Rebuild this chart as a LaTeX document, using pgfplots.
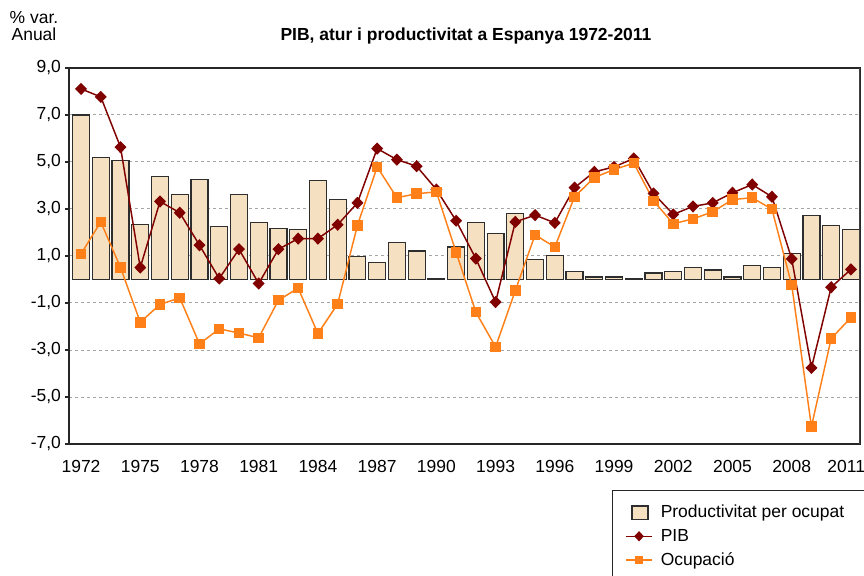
\documentclass[border=0pt]{standalone}
\usepackage{fontspec}
\setmainfont{Liberation Sans}
\usepackage{pgfplots}
\pgfplotsset{compat=1.18}
\usepackage{pgfplotstable}
\definecolor{barfill}{HTML}{F5E1C2}
\definecolor{barline}{HTML}{2E2E2E}
\definecolor{pibc}{HTML}{800000}
\definecolor{ocupc}{HTML}{FF8019}
\definecolor{gridc}{HTML}{A6A6A6}

\pgfplotsset{
  legpib/.style={legend image code/.code={\draw[mark repeat=2, mark phase=2, ##1, mark size=3pt] plot coordinates {(0pt,0pt)(9.75pt,0pt)(19.5pt,0pt)};}},
  legocup/.style={legend image code/.code={\draw[mark repeat=2, mark phase=2, ##1, mark size=2.6pt] plot coordinates {(0pt,0pt)(9.75pt,0pt)(19.5pt,0pt)};}},
  legbar/.style={legend image code/.code={\draw[fill=barfill, draw=barline, line width=0.9pt] (4.5pt,-5pt) rectangle (16.5pt,5pt);}},
}

\pgfplotstableread{
year prod pib ocup
1972 7.00 8.11 1.09
1973 5.18 7.77 2.45
1974 5.08 5.63 0.51
1975 2.35 0.51 -1.82
1976 4.37 3.32 -1.06
1977 3.62 2.84 -0.78
1978 4.27 1.46 -2.74
1979 2.24 0.04 -2.10
1980 3.63 1.29 -2.28
1981 2.41 -0.17 -2.48
1982 2.18 1.29 -0.88
1983 2.13 1.74 -0.37
1984 4.20 1.74 -2.30
1985 3.39 2.33 -1.04
1986 0.97 3.26 2.30
1987 0.74 5.57 4.79
1988 1.56 5.10 3.48
1989 1.21 4.82 3.65
1990 0.04 3.83 3.73
1991 1.38 2.50 1.16
1992 2.41 0.89 -1.39
1993 1.96 -0.96 -2.87
1994 2.82 2.45 -0.47
1995 0.85 2.74 1.90
1996 1.02 2.41 1.38
1997 0.34 3.91 3.52
1998 0.11 4.58 4.34
1999 0.11 4.79 4.68
2000 0.04 5.15 4.95
2001 0.28 3.66 3.35
2002 0.35 2.77 2.37
2003 0.51 3.11 2.58
2004 0.40 3.26 2.88
2005 0.11 3.69 3.40
2006 0.61 4.04 3.48
2007 0.51 3.52 2.99
2008 1.10 0.88 -0.23
2009 2.71 -3.76 -6.26
2010 2.31 -0.33 -2.51
2011 2.13 0.43 -1.62
}\datatable

\begin{document}
\begin{tikzpicture}[font=\fontsize{13.1pt}{15pt}\selectfont]
\useasboundingbox (-51.75pt,-98.25pt) rectangle (596.25pt,333pt);
\clip (-51.75pt,-98.25pt) rectangle (596.25pt,333pt);
\begin{axis}[
  at={(0pt,0pt)}, anchor=south west,
  scale only axis, width=593.25pt, height=282pt,
  xmin=1971.39, xmax=2011.46, ymin=-7, ymax=9,
  xtick={1972,1975,...,2011},
  xticklabels={1972,1975,1978,1981,1984,1987,1990,1993,1996,1999,2002,2005,2008,\hspace*{-7pt}2011},
  ytick={-7,-5,...,9},
  xtick style={draw=none},
  ytick pos=left, tick align=outside, major tick length=3pt,
  ytick style={black!85, line width=0.8pt},
  ymajorgrids,
  grid style={gridc, dash pattern=on 2.25pt off 2.25pt, line width=0.75pt},
  axis line style={black!85, line width=0.9pt},
  /pgf/number format/assume math mode=true,
  x tick label style={yshift=-5.5pt},
  y tick label style={xshift=0.5pt, /pgf/number format/.cd, fixed, fixed zerofill, precision=1, use comma, assume math mode=true},
  legend style={at={(0.6865,-0.1223)}, anchor=north west, draw=black!85, line width=0.9pt,
    fill=white, inner xsep=9.5pt, inner ysep=9pt, row sep=3pt,
    font=\fontsize{13.1pt}{15pt}\selectfont,
    /tikz/every odd column/.append style={column sep=4pt}},
  legend cell align=left,
]
\addplot[ybar, bar width=0.86, bar shift=0pt, fill=barfill, draw=barline, line width=0.9pt, legbar]
  table[x=year,y=prod]{\datatable};
\addlegendentry{Productivitat per ocupat\kern10pt}
\addplot[pibc, line width=1.1pt, mark=diamond*, mark size=3.8pt, mark options={xscale=1.3, solid}, legpib]
  table[x=year,y=pib]{\datatable};
\addlegendentry{PIB}
\addplot[ocupc, line width=1.1pt, mark=square*, mark size=3.4pt, mark options={solid}, legocup]
  table[x=year,y=ocup]{\datatable};
\addlegendentry{Ocupació}
\draw[black!75, line width=1.6pt] (rel axis cs:1,0) -- (rel axis cs:1,1);
\end{axis}
\node[font=\bfseries\fontsize{13.1pt}{15pt}\selectfont] at (297.75pt,306pt) {PIB, atur i productivitat a Espanya 1972-2011};
\node[align=center, inner sep=0pt, font=\fontsize{13.1pt}{12.75pt}\selectfont] at (-26.25pt,313.5pt) {\% var.\\Anual};
\end{tikzpicture}
\end{document}
